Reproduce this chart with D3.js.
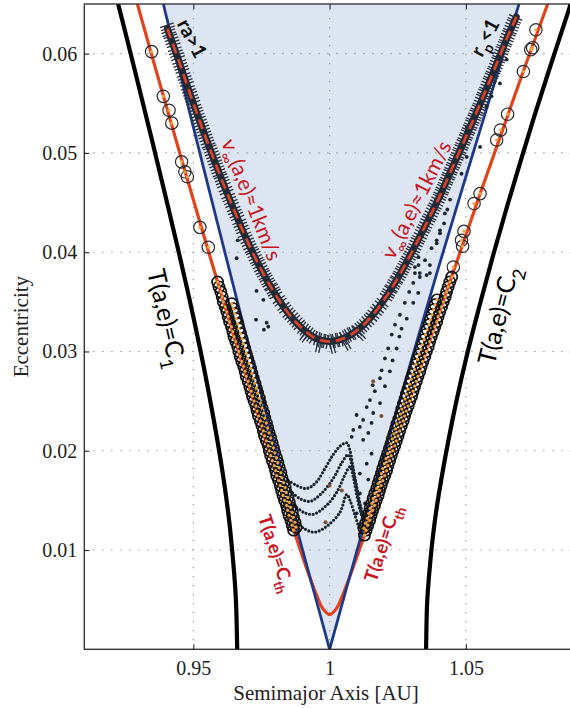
<!DOCTYPE html>
<html>
<head>
<meta charset="utf-8">
<script src="https://cdn.jsdelivr.net/npm/d3@7"></script>
<style>
  html, body { margin: 0; padding: 0; background: #fff; }
  svg { display: block; }
</style>
</head>
<body>
<svg id="chart" width="570" height="708"></svg>
<script>
// ---------------- data: (semimajor axis [AU], eccentricity) ----------------
const xTicks = [0.95, 1, 1.05];
const xTickLabels = ["0.95", "1", "1.05"];
const yTicks = [0.01, 0.02, 0.03, 0.04, 0.05, 0.06];
const yTickLabels = ["0.01", "0.02", "0.03", "0.04", "0.05", "0.06"];

// Tisserand level curves T(a,e)=C1 (left) and T(a,e)=C2 (right)
const tisserandC1 = [[0.9215,0.0660],[0.925,0.0622],[0.930,0.0567],[0.935,0.0511],[0.940,0.0454],[0.945,0.0396],
  [0.950,0.0335],[0.955,0.0268],[0.960,0.0191],[0.963,0.0133],[0.965,0.0076],[0.9655,0.0056],[0.9658,0.0037],[0.9661,0.0]];
const tisserandC2 = [[1.0354,0.0],[1.0357,0.0041],[1.036,0.0057],[1.038,0.0116],[1.040,0.0155],[1.045,0.0230],[1.050,0.0292],
  [1.055,0.0346],[1.060,0.0397],[1.065,0.0445],[1.070,0.0491],[1.075,0.0536],[1.080,0.0579],[1.085,0.0621],[1.090,0.0663]];

// threshold curve T(a,e)=Cth
const tisserandCth = [[0.929,0.0655],[0.930,0.0645],[0.935,0.0596],[0.940,0.0548],[0.945,0.0500],[0.950,0.0453],[0.955,0.0406],
  [0.960,0.0360],[0.965,0.0314],[0.970,0.0269],[0.975,0.0224],[0.980,0.0179],[0.985,0.0136],[0.990,0.0094],[0.995,0.0056],
  [0.9975,0.0041],[1.000,0.0035],[1.0025,0.0041],[1.005,0.0056],[1.010,0.0093],[1.015,0.0133],[1.020,0.0174],[1.025,0.0215],
  [1.030,0.0256],[1.035,0.0297],[1.040,0.0337],[1.045,0.0377],[1.050,0.0417],[1.055,0.0457],[1.060,0.0496],[1.065,0.0535],
  [1.070,0.0574],[1.075,0.0612],[1.080,0.0650],[1.0808,0.0656]];

// aphelion / perihelion boundaries (ra = 1 on the left, rp = 1 on the right)
const apheliusBound = [[0.939,0.0650],[0.950,0.0526],[0.960,0.0417],[0.970,0.0309],[0.980,0.0204],[0.990,0.0101],[1.000,0.0]];
const periheliusBound = [[1.000,0.0],[1.010,0.0099],[1.020,0.0196],[1.030,0.0291],[1.040,0.0385],[1.050,0.0476],[1.060,0.0566],[1.0695,0.0650]];

// v_inf(a,e) = 1 km/s level
const vinfCurve = [[0.9405,0.0625],[0.945,0.0590],[0.950,0.0550],[0.955,0.0512],[0.960,0.0476],[0.965,0.0442],[0.970,0.0410],
  [0.975,0.0382],[0.980,0.0358],[0.985,0.0338],[0.990,0.0323],[0.995,0.0313],[1.000,0.0310],[1.005,0.0313],[1.010,0.0321],
  [1.015,0.0334],[1.020,0.0352],[1.025,0.0374],[1.030,0.0399],[1.035,0.0426],[1.040,0.0454],[1.045,0.0485],[1.050,0.0516],
  [1.055,0.0548],[1.060,0.0581],[1.065,0.0615],[1.0685,0.0637]];

// sampled orbits with v_inf close to 1 km/s
const vinfSamples = [[0.9405,0.0627],[0.9410,0.0621],[0.9418,0.0616],[0.9426,0.0610],[0.9434,0.0603],[0.9442,0.0597],[0.9450,0.0590],
  [0.9458,0.0584],[0.9466,0.0577],[0.9474,0.0571],[0.9482,0.0564],[0.9490,0.0558],[0.9498,0.0552],[0.9506,0.0545],[0.9514,0.0539],
  [0.9522,0.0533],[0.9530,0.0527],[0.9538,0.0521],[0.9546,0.0515],[0.9554,0.0509],[0.9562,0.0504],[0.9570,0.0498],[0.9578,0.0492],
  [0.9586,0.0486],[0.9594,0.0480],[0.9602,0.0475],[0.961,0.0469],[0.962,0.0462],[0.963,0.0455],[0.964,0.0449],[0.965,0.0442],
  [0.966,0.0436],[0.967,0.0429],[0.968,0.0423],[0.969,0.0416],[0.970,0.0410],[0.971,0.0404],[0.972,0.0399],[0.973,0.0393],
  [0.974,0.0388],[0.975,0.0382],[0.976,0.0377],[0.977,0.0372],[0.978,0.0367],[0.979,0.0363],[0.980,0.0358],[0.9817,0.0351],
  [0.9834,0.0344],[0.9851,0.0338],[0.9868,0.0333],[0.9885,0.0328],[0.9902,0.0323],[0.9919,0.0319],[0.9936,0.0315],[0.9953,0.0313],
  [0.9970,0.0311],[0.9987,0.0310],[1.0004,0.0310],[1.0021,0.0311],[1.0038,0.0312],[1.0055,0.0314],[1.0072,0.0317],[1.0089,0.0319],
  [1.0106,0.0322],[1.0123,0.0326],[1.0140,0.0331],[1.0157,0.0336],[1.0174,0.0342],[1.0191,0.0348],[1.021,0.0356],[1.022,0.0361],
  [1.023,0.0365],[1.024,0.0370],[1.025,0.0374],[1.026,0.0379],[1.027,0.0384],[1.028,0.0389],[1.029,0.0394],[1.030,0.0399],
  [1.031,0.0404],[1.032,0.0410],[1.033,0.0415],[1.034,0.0421],[1.035,0.0426],[1.036,0.0432],[1.037,0.0437],[1.038,0.0443],
  [1.039,0.0448],[1.040,0.0454],[1.0408,0.0459],[1.0416,0.0464],[1.0424,0.0469],[1.0432,0.0474],[1.0440,0.0479],[1.0448,0.0484],
  [1.0456,0.0489],[1.0464,0.0494],[1.0472,0.0499],[1.0480,0.0504],[1.0488,0.0509],[1.0496,0.0514],[1.0504,0.0519],[1.0512,0.0524],
  [1.0520,0.0529],[1.0528,0.0534],[1.0536,0.0539],[1.0544,0.0544],[1.0552,0.0549],[1.0560,0.0555],[1.0568,0.0560],[1.0576,0.0565],
  [1.0584,0.0571],[1.0592,0.0576],[1.0600,0.0581],[1.0608,0.0586],[1.0616,0.0592],[1.0624,0.0597],[1.0632,0.0603],[1.0640,0.0608],
  [1.0648,0.0613],[1.0656,0.0619],[1.0664,0.0624],[1.0672,0.0630],[1.0680,0.0635],
  [0.9910,0.0316],[0.9960,0.0306],[1.0010,0.0305],[1.0060,0.0308],[1.0110,0.0317]];

// scattered orbit samples (dots)
const scatterDots = [[0.9663,0.0412],[0.9659,0.0394],[0.9732,0.0361],[0.9757,0.0352],[0.9730,0.0332],[0.9769,0.0329],[0.9759,0.0322],
  [0.9775,0.0325],
  [1.0326,0.0387],[1.0368,0.0387],[1.0313,0.0379],[1.0331,0.0375],[1.0356,0.0377],[1.0307,0.0369],[1.0325,0.0359],[1.0292,0.0360],
  [1.0276,0.0349],[1.0307,0.0349],[1.0258,0.0337],[1.0283,0.0333],[1.0240,0.0327],[1.0264,0.0323],[1.0228,0.0317],[1.0256,0.0315],
  [1.0215,0.0303],[1.0246,0.0303],[1.0203,0.0293],[1.0231,0.0291],[1.0191,0.0281],[1.0221,0.0280],[1.0185,0.0273],[1.0158,0.0266],
  [1.0203,0.0265],[1.0166,0.0260],[1.0148,0.0251],[1.0185,0.0248],[1.0136,0.0244],[1.0160,0.0238],[1.0099,0.0236],[1.0123,0.0231],
  [1.0154,0.0228],[1.0111,0.0224],[1.0142,0.0218],[1.0087,0.0221],[1.0081,0.0214],[1.0123,0.0211],[1.0154,0.0197],[1.0136,0.0187],
  [1.0111,0.0177],[1.0142,0.0171],[1.0111,0.0157],[1.0130,0.0147],[1.0099,0.0137],
  [1.0442,0.0453],[1.0432,0.0443],[1.0420,0.0429],[1.0405,0.0419],[1.0393,0.0409],[1.0374,0.0404],[1.0350,0.0392],[1.0368,0.0379],
  [1.0331,0.0379],[1.0326,0.0395],[1.0313,0.0385],[1.0576,0.0547],[1.0503,0.0526],[1.0552,0.0506],[1.0503,0.0496],[1.0484,0.0479],
  [1.0423,0.0439],[1.0405,0.0422],[1.0393,0.0412],[1.0594,0.0557],[1.0650,0.0594],[1.0625,0.0570],[1.0683,0.0634]];
const brownDots = [[1.0000,0.0165],[1.0045,0.0160],[1.0160,0.0270],[1.0190,0.0235],[0.9985,0.0128]];

// dotted trajectories near the bottom of the wedge
const trackA = [[0.9848,0.0170],[0.9880,0.0165],[0.9916,0.0162],[0.9950,0.0168],[0.9985,0.0183],[1.0013,0.0196],[1.0040,0.0205],
  [1.0063,0.0208],[1.0075,0.0200],[1.0085,0.0185],[1.0099,0.0164],[1.0118,0.0137],[1.0136,0.0120]];
const trackB = [[0.9855,0.0160],[0.9890,0.0152],[0.9928,0.0149],[0.9970,0.0157],[1.0013,0.0172],[1.0045,0.0188],[1.0068,0.0196],
  [1.0080,0.0188],[1.0093,0.0172],[1.0111,0.0147],[1.0130,0.0127]];
const trackC = [[0.9870,0.0145],[0.9905,0.0138],[0.9940,0.0136],[0.9985,0.0144],[1.0026,0.0158],[1.0055,0.0175],[1.0075,0.0184],
  [1.0088,0.0172],[1.0099,0.0156],[1.0112,0.0140],[1.0125,0.0128]];
const trackD = [[0.9879,0.0127],[0.9910,0.0121],[0.9946,0.0118],[0.9990,0.0124],[1.0038,0.0138],[1.0063,0.0156],[1.0075,0.0150],
  [1.0093,0.0135],[1.0111,0.0120]];

// captured orbits along T(a,e)=Cth (circles with orange centres)
const bandLeftOuter = [[0.9589,0.0370],[0.9594,0.0365],[0.9601,0.0360],[0.9606,0.0355],[0.9610,0.0350],[0.9617,0.0345],[0.9623,0.0340],
  [0.9628,0.0335],[0.9633,0.0330],[0.9640,0.0325],[0.9645,0.0320],[0.9649,0.0315],[0.9656,0.0310],[0.9663,0.0305],[0.9667,0.0300],
  [0.9672,0.0295],[0.9678,0.0290],[0.9685,0.0285],[0.9690,0.0280],[0.9694,0.0275],[0.9701,0.0270],[0.9707,0.0265],[0.9712,0.0260],
  [0.9717,0.0255],[0.9723,0.0250],[0.9730,0.0245],[0.9734,0.0240],[0.9739,0.0235],[0.9746,0.0230],[0.9752,0.0225],[0.9757,0.0220],
  [0.9761,0.0215],[0.9768,0.0210],[0.9775,0.0205],[0.9779,0.0200],[0.9784,0.0195],[0.9790,0.0190],[0.9797,0.0185],[0.9802,0.0180],
  [0.9806,0.0175],[0.9813,0.0170],[0.9819,0.0165],[0.9824,0.0160],[0.9829,0.0155],[0.9835,0.0150],[0.9842,0.0145],[0.9846,0.0140],
  [0.9851,0.0135],[0.9858,0.0130],[0.9863,0.0125],[0.9868,0.0120]];
const bandLeftInner = [[0.9641,0.0348],[0.9647,0.0343],[0.9652,0.0338],[0.9657,0.0333],[0.9663,0.0328],[0.9667,0.0323],[0.9673,0.0318],
  [0.9679,0.0313],[0.9683,0.0308],[0.9689,0.0303],[0.9694,0.0298],[0.9699,0.0293],[0.9705,0.0288],[0.9710,0.0283],[0.9715,0.0278],
  [0.9720,0.0273],[0.9726,0.0268],[0.9731,0.0263],[0.9736,0.0258],[0.9742,0.0253],[0.9746,0.0248],[0.9752,0.0243],[0.9758,0.0238],
  [0.9762,0.0233],[0.9768,0.0228],[0.9773,0.0223],[0.9778,0.0218],[0.9784,0.0213],[0.9789,0.0208],[0.9794,0.0203],[0.9799,0.0198],
  [0.9805,0.0193],[0.9810,0.0188],[0.9815,0.0183],[0.9821,0.0178],[0.9825,0.0173],[0.9831,0.0168],[0.9837,0.0163],[0.9841,0.0158],
  [0.9847,0.0153],[0.9852,0.0148],[0.9857,0.0143],[0.9863,0.0138],[0.9867,0.0133],[0.9873,0.0128],[0.9877,0.0123]];
const bandRightOuter = [[1.0448,0.0375],[1.0441,0.0370],[1.0435,0.0365],[1.0429,0.0360],[1.0424,0.0355],[1.0417,0.0350],[1.0411,0.0345],
  [1.0404,0.0340],[1.0398,0.0335],[1.0393,0.0330],[1.0386,0.0325],[1.0380,0.0320],[1.0373,0.0315],[1.0367,0.0310],[1.0362,0.0305],
  [1.0355,0.0300],[1.0349,0.0295],[1.0342,0.0290],[1.0336,0.0285],[1.0331,0.0280],[1.0324,0.0275],[1.0318,0.0270],[1.0312,0.0265],
  [1.0306,0.0260],[1.0301,0.0255],[1.0294,0.0250],[1.0288,0.0245],[1.0281,0.0240],[1.0275,0.0235],[1.0270,0.0230],[1.0263,0.0225],
  [1.0257,0.0220],[1.0251,0.0215],[1.0245,0.0210],[1.0239,0.0205],[1.0232,0.0200],[1.0226,0.0195],[1.0220,0.0190],[1.0214,0.0185],
  [1.0209,0.0180],[1.0202,0.0175],[1.0195,0.0170],[1.0189,0.0165],[1.0183,0.0160],[1.0178,0.0155],[1.0171,0.0150],[1.0165,0.0145],
  [1.0158,0.0140],[1.0152,0.0135],[1.0147,0.0130],[1.0140,0.0125],[1.0134,0.0120],[1.0128,0.0115]];
const bandRightInner = [[1.0394,0.0352],[1.0387,0.0347],[1.0382,0.0342],[1.0376,0.0337],[1.0370,0.0332],[1.0365,0.0327],[1.0358,0.0322],
  [1.0352,0.0317],[1.0347,0.0312],[1.0341,0.0307],[1.0335,0.0302],[1.0329,0.0297],[1.0323,0.0292],[1.0317,0.0287],[1.0312,0.0282],
  [1.0306,0.0277],[1.0299,0.0272],[1.0294,0.0267],[1.0288,0.0262],[1.0282,0.0257],[1.0277,0.0252],[1.0271,0.0247],[1.0265,0.0242],
  [1.0260,0.0237],[1.0254,0.0232],[1.0247,0.0227],[1.0242,0.0222],[1.0236,0.0217],[1.0230,0.0212],[1.0225,0.0207],[1.0219,0.0202],
  [1.0213,0.0197],[1.0207,0.0192],[1.0201,0.0187],[1.0195,0.0182],[1.0190,0.0177],[1.0184,0.0172],[1.0178,0.0167],[1.0173,0.0162],
  [1.0166,0.0157],[1.0160,0.0152],[1.0155,0.0147],[1.0149,0.0142],[1.0144,0.0137],[1.0138,0.0132],[1.0132,0.0127],[1.0126,0.0122]];
// isolated captured orbits higher up the threshold curve
const sparseCaptured = [[0.9347,0.0602],[0.9390,0.0557],[0.9411,0.0543],[0.9421,0.0530],[0.9457,0.0491],[0.9469,0.0481],[0.9478,0.0476],
  [0.9524,0.0425],[0.9555,0.0405],
  [1.0757,0.0624],[1.0738,0.0604],[1.0745,0.0606],[1.0711,0.0582],[1.0653,0.0539],[1.0627,0.0523],[1.0613,0.0513],[1.0552,0.0459],
  [1.0530,0.0449],[1.0493,0.0421],[1.0484,0.0412],[1.0488,0.0406],[1.0454,0.0385]];

// ---------------- layout ----------------
const svg = d3.select("#chart");
const x = d3.scaleLinear().domain([0.91, 1.09]).range([84.3, 574.9]);
const y = d3.scaleLinear().domain([0, 0.065]).range([649.3, 4]);
const [x0, x1] = x.range();
const [yb, yt] = y.range();

svg.append("defs").append("clipPath").attr("id", "plotClip")
  .append("rect").attr("x", x0).attr("y", yt).attr("width", x1 - x0).attr("height", yb - yt);

const plot = svg.append("g").attr("clip-path", "url(#plotClip)");
const smooth = d3.line().x(d => x(d[0])).y(d => y(d[1])).curve(d3.curveCatmullRom.alpha(0.5));
const straight = d3.line().x(d => x(d[0])).y(d => y(d[1]));

// shaded wedge between the ra=1 and rp=1 boundaries
plot.append("path")
  .attr("d", straight(apheliusBound.concat(periheliusBound.slice(1))) + "Z")
  .attr("fill", "#dce5f1");

// dotted grid
const grid = plot.append("g").attr("stroke", "#8f8f8f").attr("stroke-width", 1.1)
  .attr("stroke-dasharray", "1.3,7.7");
grid.selectAll("line.gx").data(xTicks).join("line")
  .attr("x1", d => x(d)).attr("x2", d => x(d)).attr("y1", yb).attr("y2", yt);
grid.selectAll("line.gy").data(yTicks).join("line")
  .attr("y1", d => y(d)).attr("y2", d => y(d)).attr("x1", x0).attr("x2", x1);

// level curves
plot.append("path").attr("d", smooth(tisserandC1)).attr("fill", "none").attr("stroke", "#000").attr("stroke-width", 4.2);
plot.append("path").attr("d", smooth(tisserandC2)).attr("fill", "none").attr("stroke", "#000").attr("stroke-width", 4.2);
plot.append("path").attr("d", smooth(tisserandCth)).attr("fill", "none").attr("stroke", "#e3421b").attr("stroke-width", 3.2);
plot.append("path").attr("d", smooth(apheliusBound)).attr("fill", "none").attr("stroke", "#1d3987").attr("stroke-width", 2.8);
plot.append("path").attr("d", smooth(periheliusBound)).attr("fill", "none").attr("stroke", "#1d3987").attr("stroke-width", 2.8);

// dotted trajectories
[trackA, trackB, trackC, trackD].forEach(t => {
  plot.append("path").attr("d", smooth(t)).attr("fill", "none")
    .attr("stroke", "#1b2431").attr("stroke-width", 3.2)
    .attr("stroke-linecap", "round").attr("stroke-dasharray", "0,3.6");
});
plot.append("g").selectAll("circle").data(scatterDots).join("circle")
  .attr("cx", d => x(d[0])).attr("cy", d => y(d[1])).attr("r", 1.9).attr("fill", "#1b2431");
plot.append("g").selectAll("circle").data(brownDots).join("circle")
  .attr("cx", d => x(d[0])).attr("cy", d => y(d[1])).attr("r", 2).attr("fill", "#7a5236");

// v_inf samples: dark core plus bar markers set across the level curve
function frameAt(a) {
  let j = vinfCurve.findIndex((p, i) => i < vinfCurve.length - 1 && a <= vinfCurve[i + 1][0]);
  if (j < 0) j = vinfCurve.length - 2;
  const p0 = vinfCurve[j], p1 = vinfCurve[j + 1];
  const dx = x(p1[0]) - x(p0[0]), dy = y(p1[1]) - y(p0[1]);
  const L = Math.hypot(dx, dy);
  return { tx: dx / L, ty: dy / L, nx: -dy / L, ny: dx / L };
}
plot.append("path").attr("d", smooth(vinfCurve)).attr("fill", "none")
  .attr("stroke", "#1f2833").attr("stroke-width", 7).attr("stroke-linecap", "round");
plot.append("g").attr("stroke", "#252e3a").attr("stroke-width", 1.3)
  .selectAll("path").data(vinfSamples).join("path")
  .attr("d", d => {
    const f = frameAt(d[0]);
    const px = x(d[0]), py = y(d[1]), h = 7.2;
    return [-1.6, 1.6].map(s => {
      const cx = px + f.tx * s, cy = py + f.ty * s;
      return `M${cx - f.nx * h},${cy - f.ny * h}L${cx + f.nx * h},${cy + f.ny * h}`;
    }).join("");
  });
plot.append("path").attr("d", smooth(vinfCurve)).attr("fill", "none")
  .attr("stroke", "#d8432a").attr("stroke-width", 2.7).attr("stroke-dasharray", "10,6");

// captured orbits
const captured = bandLeftInner.concat(bandLeftOuter, bandRightInner, bandRightOuter);
plot.append("g").selectAll("circle").data(captured).join("circle")
  .attr("cx", d => x(d[0])).attr("cy", d => y(d[1])).attr("r", 5.6)
  .attr("fill", "none").attr("stroke", "#111").attr("stroke-width", 1.7);
plot.append("g").selectAll("circle").data(sparseCaptured).join("circle")
  .attr("cx", d => x(d[0])).attr("cy", d => y(d[1])).attr("r", 6.2)
  .attr("fill", "none").attr("stroke", "#2a2a2a").attr("stroke-width", 1.2);
plot.append("g").selectAll("circle").data(captured.concat(sparseCaptured)).join("circle")
  .attr("cx", d => x(d[0])).attr("cy", d => y(d[1])).attr("r", 1.6).attr("fill", "#f0a540");

// ---------------- annotations ----------------
function label(cx, cy, angle, size, color, weight, parts) {
  const t = svg.append("text")
    .attr("transform", `translate(${cx},${cy}) rotate(${angle})`)
    .attr("text-anchor", "middle").attr("dominant-baseline", "central")
    .attr("font-family", "Lato, 'Open Sans', sans-serif")
    .attr("font-size", size).attr("font-weight", weight).attr("fill", color);
  parts.forEach(p => {
    const s = t.append("tspan").text(p[0]);
    if (p[1] === "sub") s.attr("baseline-shift", "sub").attr("font-size", size * 0.72);
  });
}
label(193, 38, 62, 20, "#111", 700, [["ra>1"]]);
label(484, 37, -62, 20, "#111", 700, [["r"], ["p", "sub"], ["<1"]]);
label(253, 199, 68.5, 21, "#c8151f", 400, [["v"], ["∞", "sub"], ["(a,e)≈1km/s"]]);
label(415, 199, -63, 21, "#c8151f", 400, [["v"], ["∞", "sub"], ["(a,e)≈1km/s"]]);
label(168, 318, 77, 25, "#000", 400, [["T(a,e)=C"], ["1", "sub"]]);
label(497, 315, -76, 25, "#000", 400, [["T(a,e)=C"], ["2", "sub"]]);
label(277, 553, 72, 18.5, "#c8151f", 700, [["T(a,e)=C"], ["th", "sub"]]);
label(382, 543, -72, 18.5, "#c8151f", 700, [["T(a,e)=C"], ["th", "sub"]]);

// ---------------- axes and frame ----------------
const serif = "'Liberation Serif', 'Times New Roman', serif";
const gx = svg.append("g").attr("transform", `translate(0,${yb})`)
  .call(d3.axisBottom(x).tickValues(xTicks).tickFormat((d, i) => xTickLabels[i]).tickSize(-5).tickSizeOuter(0).tickPadding(12));
const gy = svg.append("g").attr("transform", `translate(${x0},0)`)
  .call(d3.axisLeft(y).tickValues(yTicks).tickFormat((d, i) => yTickLabels[i]).tickSize(-5).tickSizeOuter(0).tickPadding(7));
const gt = svg.append("g").attr("transform", `translate(0,${yt})`)
  .call(d3.axisTop(x).tickValues(xTicks).tickFormat("").tickSize(-5).tickSizeOuter(0));
const gr = svg.append("g").attr("transform", `translate(${x1},0)`)
  .call(d3.axisRight(y).tickValues(yTicks).tickFormat("").tickSize(-5).tickSizeOuter(0));
[gx, gy, gt, gr].forEach(g => {
  g.select(".domain").remove();
  g.selectAll("line").attr("stroke", "#262626").attr("stroke-width", 1.1);
  g.selectAll("text").attr("font-family", serif).attr("font-size", 20).attr("fill", "#222");
});
svg.append("rect").attr("x", x0).attr("y", yt).attr("width", x1 - x0).attr("height", yb - yt)
  .attr("fill", "none").attr("stroke", "#2a2a2a").attr("stroke-width", 1.3);

svg.append("text").attr("x", 326).attr("y", 700).attr("text-anchor", "middle")
  .attr("font-family", serif).attr("font-size", 21).attr("fill", "#222").text("Semimajor Axis [AU]");
svg.append("text").attr("transform", `translate(28,${(yb + yt) / 2}) rotate(-90)`).attr("text-anchor", "middle")
  .attr("font-family", serif).attr("font-size", 21).attr("fill", "#222").text("Eccentricity");
</script>
</body>
</html>
